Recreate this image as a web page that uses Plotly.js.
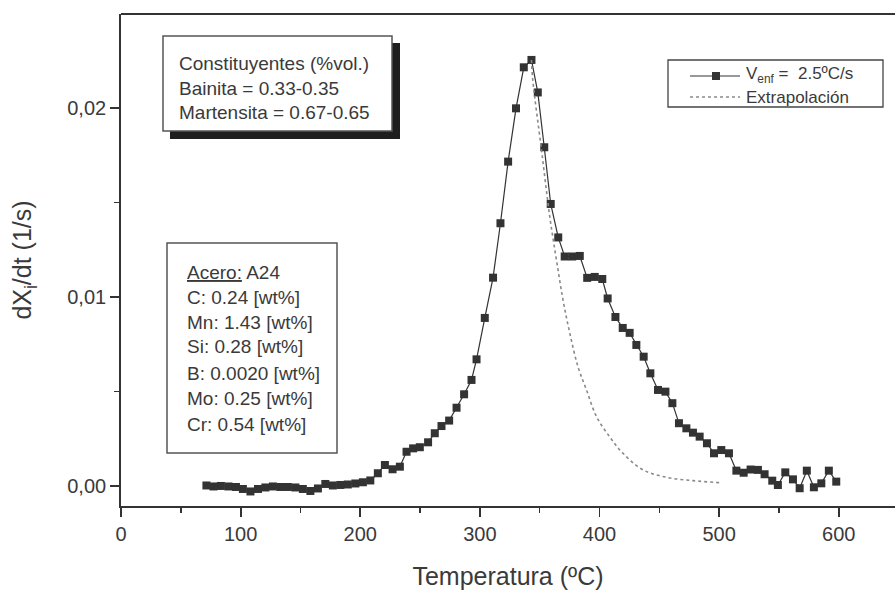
<!DOCTYPE html>
<html>
<head>
<meta charset="utf-8">
<script src="https://cdn.plot.ly/plotly-3.0.1.min.js"></script>
<style>html,body{margin:0;padding:0;background:#fff;}#chart{width:895px;height:593px;}</style>
</head>
<body>
<div id="chart"></div>
<script>
// Measured series: cooling rate 2.5 ºC/s
const tempMeasured = [71.4,77.3,83.5,89.8,96.1,101.9,108.2,114.5,120.7,127.0,133.2,139.5,145.8,152.0,158.3,164.6,170.8,177.1,183.4,189.6,195.9,202.2,208.4,214.7,220.6,227.0,233.1,238.7,244.2,249.8,256.7,262.3,267.9,274.3,280.5,286.8,293.0,297.2,304.1,311.0,317.2,323.6,330.2,336.7,343.1,348.4,353.8,359.2,365.5,370.9,377.2,383.5,389.7,396.0,402.3,406.8,413.3,419.4,425.2,430.8,436.9,442.5,448.9,455.1,460.9,466.4,472.6,478.1,483.7,489.8,495.7,501.8,508.2,514.4,520.5,526.3,532.4,538.0,544.4,549.1,555.3,561.7,567.3,573.3,579.2,585.4,591.7,597.9];
const rateMeasured = [0.000026,-0.000026,0,-0.000026,-0.000053,-0.000159,-0.000291,-0.000159,-0.000079,-0.000026,-0.000053,-0.000053,-0.000079,-0.000159,-0.000265,-0.000132,0.000106,0.000026,0.000053,0.000079,0.000132,0.000196,0.000291,0.000672,0.00111,0.000884,0.00102,0.00181,0.00199,0.00205,0.00231,0.00279,0.00317,0.00346,0.00414,0.00485,0.00561,0.00670,0.00889,0.01102,0.01390,0.01716,0.01998,0.02215,0.02254,0.02082,0.01792,0.01492,0.01315,0.01214,0.01214,0.01217,0.01101,0.01106,0.01095,0.00992,0.00894,0.00836,0.00810,0.00746,0.00684,0.00596,0.00508,0.00499,0.00438,0.00332,0.00305,0.00282,0.00261,0.00226,0.00173,0.00190,0.00173,0.00081,0.00070,0.00087,0.00085,0.00062,0.00028,0.00005,0.00072,0.00035,-0.00012,0.00081,-0.00007,0.00014,0.00081,0.00023];

// Extrapolated curve
const tempExtrap = [343.1,344.2,351.5,358.4,364.0,369.5,375.1,382.0,389.1,397.5,408.5,419.6,436.3,455.9,478.1,501.8];
const rateExtrap = [0.02254,0.02148,0.01778,0.01425,0.01196,0.00984,0.00810,0.00631,0.00508,0.00367,0.00260,0.00173,0.00085,0.00046,0.00028,0.00017];

// Labels
const xTickVals = [0,100,200,300,400,500,600];
const yTickVals = [0,0.01,0.02];
const legendNames = ["V<sub>enf</sub> =  2.5ºC/s", "Extrapolación"];
const box1Lines = ["Constituyentes (%vol.)", "Bainita = 0.33-0.35", "Martensita = 0.67-0.65"];
const box2Lines = ["<u>Acero:</u> A24", "C: 0.24 [wt%]", "Mn: 1.43 [wt%]", "Si: 0.28 [wt%]", "B: 0.0020 [wt%]", "Mo: 0.25 [wt%]", "Cr: 0.54 [wt%]"];

const W = 895, H = 593, L = 121, T = 14, B = 87;
const plotW = W - L, plotH = H - T - B;
const px = v => (v - L) / plotW;
const py = v => (H - B - v) / plotH;

const FONT = "Liberation Sans, Arial, sans-serif";
const TXT = "#3a3a3a";
const AX = "#333";
const LINE = "#333";
const DOT = "#8a8a8a";

const traces = [
  {
    x: tempMeasured, y: rateMeasured, type: "scatter", mode: "lines+markers",
    name: legendNames[0],
    line: {color: LINE, width: 1.2},
    marker: {symbol: "square", size: 8, color: LINE}
  },
  {
    x: tempExtrap, y: rateExtrap, type: "scatter", mode: "lines",
    name: legendNames[1],
    line: {color: DOT, width: 1.6, dash: "dot", shape: "spline"}
  }
];

const annotations = [];
const b1y = [63, 88, 112];
box1Lines.forEach((t, i) => annotations.push({
  xref: "paper", yref: "paper", x: px(177), y: py(b1y[i]), xanchor: "left", yanchor: "middle",
  text: t, showarrow: false, font: {family: FONT, size: 19, color: TXT}
}));
const b2y = [272, 297, 322, 347, 373, 398, 424];
box2Lines.forEach((t, i) => annotations.push({
  xref: "paper", yref: "paper", x: px(185), y: py(b2y[i]), xanchor: "left", yanchor: "middle",
  text: t, showarrow: false, font: {family: FONT, size: 19, color: TXT}
}));
// legend texts
const legY = [75, 97];
legendNames.forEach((t, i) => annotations.push({
  xref: "paper", yref: "paper", x: px(744), y: py(legY[i]), xanchor: "left", yanchor: "middle",
  text: t, showarrow: false, font: {family: FONT, size: 17, color: TXT}
}));

const shapes = [
  {type: "rect", xref: "paper", yref: "paper", x0: px(170), x1: px(400), y0: py(139), y1: py(43),
   fillcolor: "#1e1e1e", line: {width: 0}},
  {type: "rect", xref: "paper", yref: "paper", x0: px(163), x1: px(392), y0: py(131), y1: py(36),
   fillcolor: "#ffffff", line: {color: "#555", width: 1.5}},
  {type: "rect", xref: "paper", yref: "paper", x0: px(167), x1: px(337), y0: py(453), y1: py(243),
   fillcolor: "#ffffff", line: {color: "#555", width: 1.5}},
  {type: "line", xref: "paper", yref: "paper", x0: 0, x1: 1, y0: 1, y1: 1,
   line: {color: AX, width: 1.8}},
  // legend frame and keys
  {type: "rect", xref: "paper", yref: "paper", x0: px(668), x1: px(883), y0: py(107), y1: py(60),
   fillcolor: "#ffffff", line: {color: "#444", width: 1.3}},
  {type: "line", xref: "paper", yref: "paper", x0: px(690), x1: px(740), y0: py(76), y1: py(76),
   line: {color: LINE, width: 1.2}},
  {type: "rect", xref: "paper", yref: "paper", x0: px(712), x1: px(720), y0: py(80), y1: py(72),
   fillcolor: LINE, line: {width: 0}},
  {type: "line", xref: "paper", yref: "paper", x0: px(690), x1: px(740), y0: py(97), y1: py(97),
   line: {color: DOT, width: 1.6, dash: "dot"}}
];

const layout = {
  width: W, height: H,
  margin: {l: L, r: 0, t: T, b: B, pad: 0},
  paper_bgcolor: "#ffffff", plot_bgcolor: "#ffffff",
  separators: ",.",
  font: {family: FONT, color: TXT},
  showlegend: false,
  xaxis: {
    range: [0, 647], showgrid: false, zeroline: false,
    showline: true, linecolor: AX, linewidth: 1.8,
    ticks: "outside", ticklen: 9, tickwidth: 1.8, tickcolor: AX,
    tickvals: xTickVals,
    tickfont: {family: FONT, size: 20, color: TXT},
    minor: {ticks: "outside", ticklen: 5, tickwidth: 1.5, tickcolor: AX, dtick: 50, tick0: 0, showgrid: false},
    title: {text: "Temperatura (ºC)", font: {family: FONT, size: 25, color: TXT}, standoff: 24},
    automargin: false
  },
  yaxis: {
    range: [-0.00106, 0.02497], showgrid: false, zeroline: false,
    showline: true, linecolor: AX, linewidth: 1.8,
    ticks: "outside", ticklen: 9, tickwidth: 1.8, tickcolor: AX,
    tickvals: yTickVals, tickformat: ".2f",
    tickfont: {family: FONT, size: 20, color: TXT},
    minor: {ticks: "outside", ticklen: 5, tickwidth: 1.5, tickcolor: AX, dtick: 0.005, tick0: 0, showgrid: false},
    title: {text: "dX<sub>i</sub>/dt (1/s)", font: {family: FONT, size: 25, color: TXT}, standoff: 28},
    automargin: false
  },
  shapes: shapes,
  annotations: annotations
};

Plotly.newPlot("chart", traces, layout, {displayModeBar: false, staticPlot: true});
</script>
</body>
</html>
